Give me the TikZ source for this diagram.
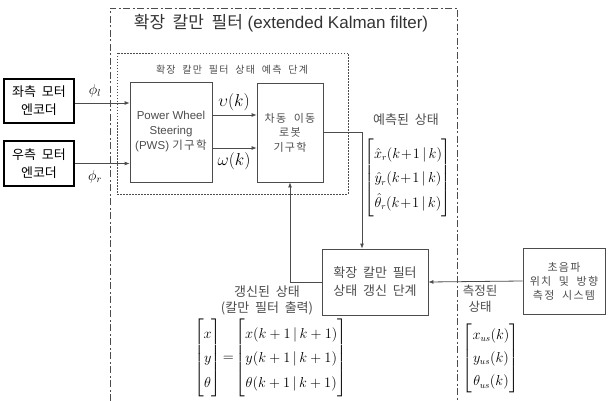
\documentclass[tikz,border=0pt]{standalone}
\usepackage{amsmath}
\usepackage{fontspec}
\setmainfont{Liberation Sans}
\newfontfamily\kr[WordSpace=2]{Noto Sans CJK KR}
\newfontfamily\krl[WordSpace=2,LetterSpace=12]{Noto Sans CJK KR}
\usetikzlibrary{arrows.meta}
\definecolor{linec}{gray}{0.3}
\definecolor{txtc}{gray}{0.3}
\tikzset{
  blk/.style={draw=linec, line width=0.8pt, rectangle, inner sep=0pt, align=center, text=txtc},
  encbox/.style={draw=black, line width=1.1pt, rectangle, inner sep=0pt, align=center, font=\kr\fontsize{13}{18}\selectfont},
  arr/.style={draw=linec, line width=0.8pt, -{Latex[length=5pt,width=4pt]}},
  ln/.style={draw=linec, line width=0.8pt},
  lbl/.style={inner sep=0pt, align=center, text=txtc},
  mth/.style={inner sep=0pt},
}
\begin{document}
\begin{tikzpicture}[x=1pt,y=-1pt]
\useasboundingbox (0,0) rectangle (610,401);
% outer dash-dot frame
\draw[linec, line width=0.8pt, dash pattern=on 7pt off 2.5pt on 2pt off 2.5pt] (110,401) -- (110,8) -- (457,8) -- (457,401);
\node[lbl, text=black!80, font=\fontsize{17}{20}\selectfont] (title) at (281,23) {{\kr 확장 칼만 필터} (extended Kalman filter)};
% inner dotted frame
\draw[linec, line width=0.7pt, dash pattern=on 1.5pt off 1.5pt] (117,53) rectangle (348,194);
\node[lbl, font=\krl\fontsize{10}{12}\selectfont] (sub) at (232,70) {확장 칼만 필터 상태 예측 단계};
% encoders
\node[encbox, minimum width=70pt, minimum height=44pt] (encL) at (39,101) {좌측 모터\\엔코더};
\node[encbox, minimum width=70pt, minimum height=45pt] (encR) at (39,163.5) {우측 모터\\엔코더};
% PWS
\node[blk, minimum width=82pt, minimum height=100pt, font=\fontsize{11.5}{15}\selectfont] (pws) at (171,132) {Power Wheel\\Steering\\(PWS) {\krl 기구학}};
% robot
\node[blk, minimum width=66pt, minimum height=99pt, font=\krl\fontsize{11}{14.5}\selectfont] (robot) at (290,132.5) {차동 이동\\로봇\\기구학};
% update
\node[blk, minimum width=106pt, minimum height=66pt, font=\kr\fontsize{13}{18}\selectfont] (upd) at (375,282) {확장 칼만 필터\\상태 갱신 단계};
% ultrasonic
\node[blk, minimum width=82pt, minimum height=66pt, font=\krl\fontsize{11}{14}\selectfont] (us) at (564,281) {초음파\\위치 및 방향\\측정 시스템};
% connectors
\coordinate (yl) at (0,103);
\coordinate (yv) at (0,115);
\coordinate (yw) at (0,148);
\coordinate (xd) at (362,0);
\draw[arr] (encL.east |- yl) -- (pws.west |- yl);
\draw[arr] (encR.east) -- (pws.west |- encR.east);
\draw[arr] (pws.east |- yv) -- (robot.west |- yv);
\draw[arr] (pws.east |- yw) -- (robot.west |- yw);
\draw[arr] (robot.east) -| (xd |- upd.north);
\draw[arr] (upd.west) -| (robot.south);
\draw[arr] (us.west) -- (upd.east);
% math labels
\node[mth, font=\fontsize{14}{16}\selectfont] (phil) at (95,91) {$\phi_l$};
\node[mth, font=\fontsize{14}{16}\selectfont] (phir) at (95,177) {$\phi_r$};
\node[mth, font=\fontsize{16}{18}\selectfont] (vk) at (234,102) {$\upsilon(k)$};
\node[mth, font=\fontsize{16}{18}\selectfont] (wk) at (234,161) {$\omega(k)$};
% predicted state
\node[lbl, font=\kr\fontsize{13}{16}\selectfont] (predl) at (406,120) {예측된 상태};
\node[mth, font=\fontsize{13.5}{16}\selectfont] (predm) at (408,178) {$\renewcommand{\arraystretch}{1.55}\begin{bmatrix}\hat{x}_r(k\!+\!1\,|\,k)\\ \hat{y}_r(k\!+\!1\,|\,k)\\ \hat{\theta}_r(k\!+\!1\,|\,k)\end{bmatrix}$};
% updated state
\node[lbl, font=\kr\fontsize{13}{16}\selectfont] (updl) at (267,300) {갱신된 상태\\(칼만 필터 출력)};
\node[mth, font=\fontsize{14}{16}\selectfont] (updm) at (270.5,358) {$\renewcommand{\arraystretch}{1.55}\begin{bmatrix}x\\ y\\ \theta\end{bmatrix}\!=\!\begin{bmatrix}x(k+1\,|\,k+1)\\ y(k+1\,|\,k+1)\\ \theta(k+1\,|\,k+1)\end{bmatrix}$};
% measured state
\node[lbl, font=\kr\fontsize{12.5}{16}\selectfont] (measl) at (480,299) {측정된\\상태};
\node[mth, font=\fontsize{13.5}{16}\selectfont] (measm) at (491,358) {$\renewcommand{\arraystretch}{1.45}\begin{bmatrix}x_{us}(k)\\ y_{us}(k)\\ \theta_{us}(k)\end{bmatrix}$};
\end{tikzpicture}
\end{document}
